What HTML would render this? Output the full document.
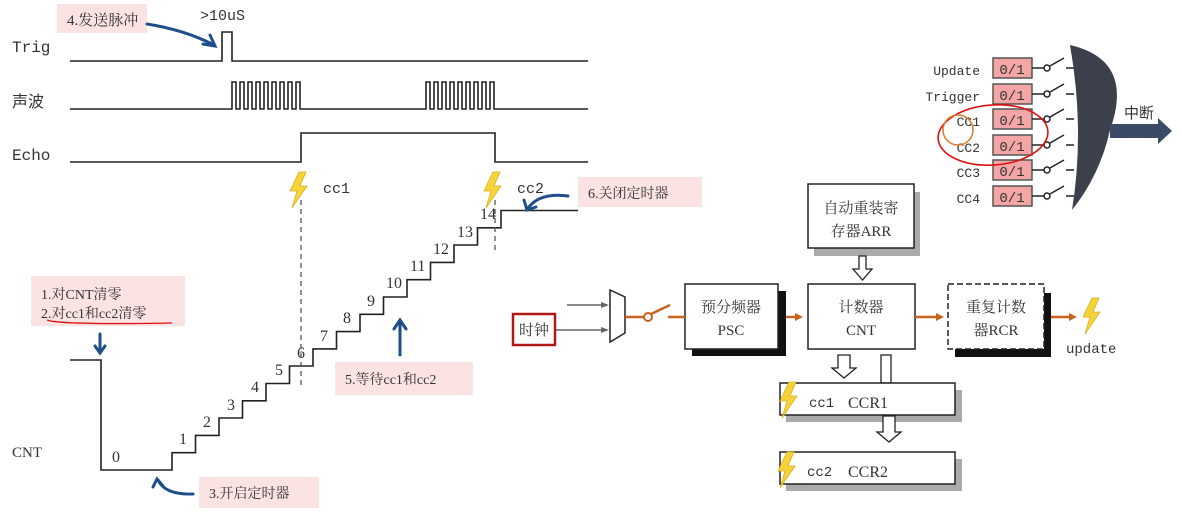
<!DOCTYPE html>
<html><head><meta charset="utf-8"><style>
html,body{margin:0;padding:0;background:#fff;}
svg{display:block;}
text{font-family:"Liberation Serif","Noto Serif CJK SC",serif;fill:#333;}
text.m,.m text{font-family:"Liberation Mono","Noto Sans CJK SC",monospace;}
text.c,.c text{font-family:"Liberation Sans","Noto Sans CJK SC",sans-serif;}
</style></head><body>
<svg width="1182" height="522" viewBox="0 0 1182 522" xmlns="http://www.w3.org/2000/svg">
<defs>
<path id="bolt" d="M9,0 L0,19 L7,19 L2,36 L17,14 L10,14 L16,0 Z" fill="#f7d33a" stroke="#d9b020" stroke-width="0.8"/>
<marker id="oa" markerWidth="8" markerHeight="8" refX="5" refY="4" orient="auto" markerUnits="userSpaceOnUse"><path d="M0,0 L8,4 L0,8 Z" fill="#c8641e"/></marker>
<marker id="ga" markerWidth="8" markerHeight="8" refX="6" refY="4" orient="auto" markerUnits="userSpaceOnUse"><path d="M0,1 L8,4 L0,7 Z" fill="#666"/></marker>
</defs>

<text x="12" y="52" font-size="16" class="m">Trig</text>
<text x="12" y="107" font-size="16" class="c">声波</text>
<text x="12" y="160" font-size="16" class="m">Echo</text>
<text x="12" y="457" font-size="15">CNT</text>

<g fill="none" stroke="#222" stroke-width="1.6">
<polyline points="70,61 222,61 222,32 232,32 232,61 588,61"/>
<polyline points="70,109 232,109 232,82 236,82 236,109 240,109 240,82 244,82 244,109 248,109 248,82 252,82 252,109 256,109 256,82 260,82 260,109 264,109 264,82 268,82 268,109 272,109 272,82 276,82 276,109 280,109 280,82 284,82 284,109 288,109 288,82 292,82 292,109 296,109 296,82 300,82 300,109 426,109 426,82 430,82 430,109 434,109 434,82 438,82 438,109 442,109 442,82 446,82 446,109 450,109 450,82 454,82 454,109 458,109 458,82 462,82 462,109 466,109 466,82 470,82 470,109 474,109 474,82 478,82 478,109 482,109 482,82 486,82 486,109 490,109 490,82 494,82 494,109 588,109"/>
<polyline points="70,162 301,162 301,133 495,133 495,162 588,162"/>
<polyline points="70,360 101,360 101,470 172,470 172,452.7 195.5,452.7 195.5,435.4 219,435.4 219,418 242.5,418 242.5,400.8 266,400.8 266,383.5 289.5,383.5 289.5,366 313,366 313,348.9 336.5,348.9 336.5,331.6 360,331.6 360,314.3 383.5,314.3 383.5,297 407,297 407,279.7 430.5,279.7 430.5,262.4 454,262.4 454,245 477.5,245 477.5,227.8 501,227.8 501,210.5 578,210.5"/>
</g>
<g stroke="#555" stroke-width="1.3" stroke-dasharray="5,4">
<line x1="301" y1="200" x2="301" y2="387"/>
<line x1="495" y1="200" x2="495" y2="252"/>
</g>
<text x="200" y="20" font-size="15" class="m">&gt;10uS</text>
<use href="#bolt" transform="translate(290,172)"/>
<use href="#bolt" transform="translate(484,172)"/>
<text x="323" y="193" font-size="15" class="m">cc1</text>
<text x="517" y="193" font-size="15" class="m">cc2</text>

<g font-size="16">
<text x="112" y="462">0</text><text x="179" y="444">1</text><text x="203" y="427">2</text><text x="227" y="410">3</text><text x="251" y="392">4</text><text x="275" y="375">5</text><text x="297" y="358">6</text><text x="320" y="341">7</text><text x="343" y="323">8</text><text x="367" y="306">9</text><text x="386" y="288">10</text><text x="410" y="271">11</text><text x="433" y="254">12</text><text x="457" y="237">13</text><text x="480" y="219">14</text>
</g>

<g fill="#fbe3e3">
<rect x="57" y="4" width="90" height="29"/>
<rect x="31" y="276" width="154" height="50"/>
<rect x="335" y="362" width="138" height="33"/>
<rect x="199" y="477" width="120" height="31"/>
<rect x="578" y="177" width="124" height="30"/>
</g>
<text x="67" y="25" font-size="15">4.发送脉冲</text>
<text x="41" y="299" font-size="14">1.对CNT清零</text>
<text x="41" y="318" font-size="14">2.对cc1和cc2清零</text>
<path d="M47,320 Q60,325 172,323" fill="none" stroke="#d11" stroke-width="1.3"/>
<text x="345" y="384" font-size="14">5.等待cc1和cc2</text>
<text x="209" y="498" font-size="14">3.开启定时器</text>
<text x="588" y="198" font-size="14">6.关闭定时器</text>

<g fill="none" stroke="#1f4e89" stroke-width="3" stroke-linecap="round">
<path d="M147,24 Q185,30 214,45"/><path d="M203,44 L215,46 L210,35"/>
<path d="M100,334 L100,352"/><path d="M95,346 L100,353 L105,346"/>
<path d="M400,355 L400,322"/><path d="M394,329 L400,320 L406,329"/>
<path d="M193,494 Q165,495 158,480"/><path d="M153,487 L157,479 L163,486"/>
<path d="M568,196 Q540,192 528,208"/><path d="M524,200 L527,210 L536,207"/>
</g>

<rect x="814" y="192" width="106" height="64" fill="#aaa"/>
<rect x="808" y="184" width="106" height="64" fill="#fff" stroke="#222" stroke-width="1.5"/>
<text x="861" y="213" font-size="15" text-anchor="middle">自动重装寄</text>
<text x="861" y="236" font-size="15" text-anchor="middle">存器ARR</text>

<path d="M859,256 h7 v13 h6 l-9.5,11 l-9.5,-11 h6 z" fill="#fff" stroke="#222" stroke-width="1.3"/>

<rect x="692" y="291" width="94" height="65" fill="#111"/>
<rect x="685" y="284" width="93" height="65" fill="#fff" stroke="#222" stroke-width="1.5"/>
<text x="731" y="312" font-size="15" text-anchor="middle">预分频器</text>
<text x="731" y="335" font-size="15" text-anchor="middle">PSC</text>

<rect x="808" y="284" width="107" height="65" fill="#fff" stroke="#222" stroke-width="1.5"/>
<text x="861" y="312" font-size="15" text-anchor="middle">计数器</text>
<text x="861" y="335" font-size="15" text-anchor="middle">CNT</text>

<rect x="955" y="293" width="96" height="64" fill="#111"/>
<rect x="948" y="284" width="96" height="65" fill="#fff" stroke="#222" stroke-width="1.5" stroke-dasharray="6,3"/>
<text x="996" y="312" font-size="15" text-anchor="middle">重复计数</text>
<text x="996" y="335" font-size="15" text-anchor="middle">器RCR</text>

<rect x="513" y="314" width="42" height="31" fill="#fff" stroke="#b01818" stroke-width="2.5"/>
<text x="534" y="335" font-size="15" text-anchor="middle">时钟</text>
<line x1="556" y1="330" x2="607" y2="330" stroke="#666" stroke-width="1.5" marker-end="url(#ga)"/>
<line x1="567" y1="305" x2="607" y2="305" stroke="#666" stroke-width="1.5" marker-end="url(#ga)"/>
<path d="M610,290 L625,297 L625,333 L610,342 Z" fill="#fff" stroke="#222" stroke-width="1.5"/>
<g stroke="#c8641e" stroke-width="2.5" fill="none">
<line x1="625" y1="317" x2="644" y2="317"/>
<circle cx="648" cy="317" r="4" stroke-width="2"/>
<line x1="651" y1="314" x2="670" y2="305"/>
<line x1="668" y1="317" x2="685" y2="317"/>
<line x1="786" y1="317" x2="800" y2="317" marker-end="url(#oa)"/>
<line x1="915" y1="317" x2="941" y2="317" marker-end="url(#oa)"/>
<line x1="1051" y1="317" x2="1074" y2="317" marker-end="url(#oa)"/>
</g>
<use href="#bolt" transform="translate(1083,298)"/>
<text x="1066" y="353" font-size="14" class="m">update</text>

<path d="M838,355 h12 v13 h6 l-12,10 l-12,-10 h6 z" fill="#fff" stroke="#222" stroke-width="1.3"/>
<rect x="881" y="355" width="10" height="28" fill="#fff" stroke="#222" stroke-width="1.3"/>

<rect x="786" y="390" width="176" height="32" fill="#aaa"/>
<rect x="780" y="383" width="175" height="32" fill="#fff" stroke="#222" stroke-width="1.5"/>
<use href="#bolt" transform="translate(780,382)"/>
<text x="809" y="407" font-size="14" class="m">cc1</text>
<text x="848" y="408" font-size="16">CCR1</text>
<path d="M883,416 h12 v16 h6 l-12,10 l-12,-10 h6 z" fill="#fff" stroke="#222" stroke-width="1.3"/>
<rect x="786" y="459" width="176" height="32" fill="#aaa"/>
<rect x="780" y="452" width="175" height="32" fill="#fff" stroke="#222" stroke-width="1.5"/>
<use href="#bolt" transform="translate(778,452)"/>
<text x="807" y="476" font-size="14" class="m">cc2</text>
<text x="848" y="477" font-size="16">CCR2</text>

<g font-size="13" class="m" text-anchor="end">
<text x="980" y="75">Update</text><text x="980" y="101">Trigger</text><text x="980" y="126">CC1</text><text x="980" y="152">CC2</text><text x="980" y="177">CC3</text><text x="980" y="203">CC4</text>
</g>
<g stroke="#555" stroke-width="1.5" fill="#f4a6a6">
<rect x="993" y="58" width="39" height="20"/><rect x="993" y="84" width="39" height="20"/><rect x="993" y="109" width="39" height="20"/><rect x="993" y="135" width="39" height="20"/><rect x="993" y="160" width="39" height="20"/><rect x="993" y="186" width="39" height="20"/>
</g>
<g font-size="14" class="m" text-anchor="middle">
<text x="1012" y="74">0/1</text><text x="1012" y="100">0/1</text><text x="1012" y="125">0/1</text><text x="1012" y="151">0/1</text><text x="1012" y="176">0/1</text><text x="1012" y="202">0/1</text>
</g>
<g stroke="#222" stroke-width="1.5" fill="#fff">
<g id="sw"><line x1="1032" y1="68" x2="1044" y2="68"/><circle cx="1047" cy="68" r="3"/><line x1="1050" y1="66" x2="1064" y2="58"/><line x1="1066" y1="68" x2="1074" y2="68"/></g>
<use href="#sw" y="26"/><use href="#sw" y="51"/><use href="#sw" y="77"/><use href="#sw" y="102"/><use href="#sw" y="128"/>
</g>
<path d="M1070,45 Q1135,60 1110,130 Q1100,175 1072,210 Q1085,130 1070,45 Z" fill="#3b404c"/>
<path d="M1110,124 L1158,124 L1158,118 L1172,131 L1158,144 L1158,138 L1110,138 Z" fill="#3b4a66"/>
<text x="1124" y="118" font-size="15" class="c">中断</text>
<ellipse cx="993" cy="135" rx="55" ry="30" fill="none" stroke="#d11" stroke-width="1.6" transform="rotate(-4 993 135)"/>
<circle cx="958" cy="130" r="15" fill="none" stroke="#d77a2a" stroke-width="1.5"/>
</svg>
</body></html>
